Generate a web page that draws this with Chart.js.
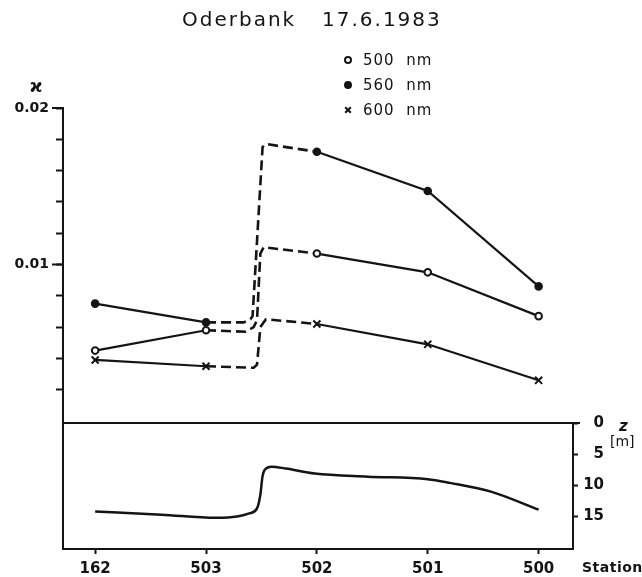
<!DOCTYPE html>
<html>
<head>
<meta charset="utf-8">
<script src="https://cdn.jsdelivr.net/npm/chart.js@4.4.1/dist/chart.umd.min.js"></script>
<style>
  html, body { margin: 0; padding: 0; background: #fff; }
  #wrap { position: relative; width: 642px; height: 577px; }
  #wrap canvas { position: absolute; left: 0; top: 0; }
</style>
</head>
<body>
<div id="wrap">
  <canvas id="upper" width="642" height="577"></canvas>
  <canvas id="lower" width="642" height="577"></canvas>
</div>
<script>
// Stations along the section (plotted at positions 0..4)
const stations = ['162', '503', '502', '501', '500'];

// Attenuation coefficient at each station
const k500 = [0.0045, 0.0058, 0.0107, 0.0095, 0.0067];
const k560 = [0.0075, 0.0063, 0.0172, 0.0147, 0.0086];
const k600 = [0.0039, 0.0035, 0.0062, 0.0049, 0.0026];

// Sketched course across the front between 503 and 502 (dashed), [position, value]
const front500 = [[1.36, 0.0057], [1.43, 0.0060], [1.46, 0.00645], [1.49, 0.0107], [1.52, 0.0111]];
const front560 = [[1.34, 0.0063], [1.40, 0.0065], [1.42, 0.0067], [1.51, 0.0175], [1.54, 0.0177]];
const front600 = [[1.43, 0.0034], [1.46, 0.0036], [1.49, 0.0060], [1.54, 0.0065]];

// Left axis ticks
const yMinorStep = 0.002;
const yMajorTicks = [0.01, 0.02];
const yMajorLabels = ['0.01', '0.02'];

// Bottom depth profile z [m] along the section
const depthX = [0, 0.6, 1.09, 1.28, 1.39, 1.46, 1.49, 1.51, 1.54, 1.59, 1.72, 1.98, 2.46, 3.0, 3.2, 3.57, 4.0];
const depthZ = [14.2, 14.7, 15.2, 15.0, 14.5, 13.7, 11.5, 8.5, 7.3, 7.0, 7.3, 8.1, 8.6, 9.0, 9.6, 11.0, 13.9];
const depthTicks = [0, 5, 10, 15];
const depthTickLabels = ['0', '5', '10', '15'];

const INK = '#141414';
const FONT = "'DejaVu Sans', sans-serif";
const X_MIN = -0.29, X_MAX = 4.31;

function seriesData(vals, front) {
  const pts = vals.map((v, i) => ({ x: i, y: v, mark: true }));
  const fr = front.map(([x, y]) => ({ x, y, mark: false }));
  return [pts[0], pts[1], ...fr, pts[2], pts[3], pts[4]];
}
const inFront = ctx => ctx.p0.parsed.x >= 1 && ctx.p1.parsed.x <= 2;
const lineSeg = {
  borderDash: ctx => inFront(ctx) ? [10, 5] : undefined,
  borderWidth: ctx => inFront(ctx) ? 2.6 : 2.2
};

function series(label, vals, front, style, radius, fillColor) {
  return {
    label,
    data: seriesData(vals, front),
    borderColor: INK,
    borderWidth: 2.2,
    tension: 0,
    fill: false,
    segment: lineSeg,
    pointStyle: style,
    pointRadius: c => (c.raw && c.raw.mark) ? radius : 0,
    pointBackgroundColor: fillColor,
    pointBorderColor: INK,
    pointBorderWidth: 2
  };
}

const upperDatasets = [
  series('500 nm', k500, front500, 'circle', 3.3, '#fff'),
  series('560 nm', k560, front560, 'circle', 3.3, INK),
  series('600 nm', k600, front600, 'crossRot', 5, INK)
];

const upperDecor = {
  id: 'upperDecor',
  afterDraw(chart) {
    const ctx = chart.ctx;
    const y = chart.scales.y;
    ctx.save();
    ctx.fillStyle = INK;
    ctx.strokeStyle = INK;
    // title
    ctx.font = '20px ' + FONT;
    ctx.letterSpacing = '2px';
    ctx.textBaseline = 'alphabetic';
    ctx.textAlign = 'left';
    ctx.fillText('Oderbank', 182, 26);
    ctx.fillText('17.6.1983', 322, 26);
    // axis symbol
    ctx.letterSpacing = '0px';
    ctx.font = 'bold 17px ' + FONT;
    ctx.textAlign = 'center';
    ctx.fillText('ϰ', 36, 92);
    // longer ticks at the labelled values
    ctx.lineWidth = 2;
    yMajorTicks.forEach(v => {
      const py = y.getPixelForValue(v);
      ctx.beginPath();
      ctx.moveTo(chart.chartArea.left - 11, py);
      ctx.lineTo(chart.chartArea.left, py);
      ctx.stroke();
    });
    // legend
    ctx.font = '15px ' + FONT;
    ctx.letterSpacing = '1px';
    ctx.textAlign = 'left';
    ctx.textBaseline = 'middle';
    const rows = [60, 85, 110];
    chart.data.datasets.forEach((ds, i) => {
      const r = ds.pointStyle === 'crossRot' ? 4 : 3;
      ctx.lineWidth = 2;
      ctx.fillStyle = ds.pointBackgroundColor;
      ctx.strokeStyle = INK;
      Chart.helpers.drawPoint(ctx, { pointStyle: ds.pointStyle, radius: r, borderWidth: 2 }, 348, rows[i]);
      ctx.fillStyle = INK;
      ctx.fillText(ds.label.replace(' ', '  '), 363, rows[i] + 1);
    });
    ctx.restore();
  }
};

new Chart(document.getElementById('upper'), {
  type: 'line',
  data: { datasets: upperDatasets },
  options: {
    responsive: false,
    animation: false,
    events: [],
    layout: { padding: { top: 108, right: 69, bottom: 156, left: 0 } },
    plugins: { legend: { display: false }, tooltip: { enabled: false } },
    scales: {
      x: { type: 'linear', display: false, min: X_MIN, max: X_MAX },
      y: {
        type: 'linear', position: 'left', min: 0, max: 0.02,
        afterFit: s => { s.width = 63; },
        afterBuildTicks: s => {
          const t = [];
          for (let i = 0; i <= 10; i++) t.push({ value: +(i * yMinorStep).toFixed(4) });
          s.ticks = t;
        },
        ticks: {
          autoSkip: false,
          padding: 7,
          color: INK,
          font: { family: FONT, size: 14, weight: 'bold' },
          callback: v => {
            const k = yMajorTicks.findIndex(m => Math.abs(m - v) < 1e-9);
            return k >= 0 ? yMajorLabels[k] : '';
          }
        },
        grid: {
          drawOnChartArea: false,
          drawTicks: true,
          tickLength: 7,
          tickWidth: 2,
          color: c => (c.tick && c.tick.value === 0) ? 'rgba(0,0,0,0)' : INK
        },
        border: { display: true, color: INK, width: 2 }
      }
    }
  },
  plugins: [upperDecor]
});

const lowerDecor = {
  id: 'lowerDecor',
  afterDraw(chart) {
    const ctx = chart.ctx;
    const a = chart.chartArea;
    ctx.save();
    ctx.strokeStyle = INK;
    ctx.lineWidth = 2;
    ctx.beginPath();
    ctx.moveTo(a.left, a.bottom);
    ctx.lineTo(a.left, a.top);
    ctx.lineTo(a.right + 7, a.top);
    ctx.stroke();
    ctx.fillStyle = INK;
    ctx.font = 'bold 14px ' + FONT;
    ctx.letterSpacing = '0.5px';
    ctx.textBaseline = 'middle';
    ctx.textAlign = 'left';
    ctx.fillText('Station', 582, 568);
    ctx.font = 'italic bold 15px ' + FONT;
    ctx.letterSpacing = '0px';
    ctx.fillText('z', 619, 427);
    ctx.font = '14px ' + FONT;
    ctx.fillText('[m]', 610, 442);
    ctx.restore();
  }
};

new Chart(document.getElementById('lower'), {
  type: 'line',
  data: {
    datasets: [{
      label: 'z',
      data: depthX.map((x, i) => ({ x, y: depthZ[i] })),
      yAxisID: 'z',
      borderColor: INK,
      borderWidth: 2.5,
      pointRadius: 0,
      cubicInterpolationMode: 'monotone',
      fill: false
    }]
  },
  options: {
    responsive: false,
    animation: false,
    events: [],
    layout: { padding: { top: 423, right: 38, bottom: 0, left: 63 } },
    plugins: { legend: { display: false }, tooltip: { enabled: false } },
    scales: {
      x: {
        type: 'linear', position: 'bottom', min: X_MIN, max: X_MAX,
        afterFit: s => { s.height = 28; },
        afterBuildTicks: s => { s.ticks = stations.map((_, i) => ({ value: i })); },
        ticks: {
          autoSkip: false, maxRotation: 0, padding: 6, color: INK,
          font: { family: FONT, size: 15, weight: 'bold' },
          callback: v => stations[v]
        },
        grid: { drawOnChartArea: false, tickLength: 5, tickWidth: 2, color: INK },
        border: { display: true, color: INK, width: 2 }
      },
      z: {
        type: 'linear', position: 'right', reverse: true, min: 0, max: 20.2,
        afterFit: s => { s.width = 31; },
        afterBuildTicks: s => { s.ticks = depthTicks.map(v => ({ value: v })); },
        ticks: {
          autoSkip: false, padding: 4, crossAlign: 'far', color: INK,
          font: { family: FONT, size: 15, weight: 'bold' },
          callback: v => depthTickLabels[depthTicks.indexOf(v)]
        },
        grid: { drawOnChartArea: false, tickLength: 5, tickWidth: 2, color: INK },
        border: { display: true, color: INK, width: 2 }
      }
    }
  },
  plugins: [lowerDecor]
});
</script>
</body>
</html>
